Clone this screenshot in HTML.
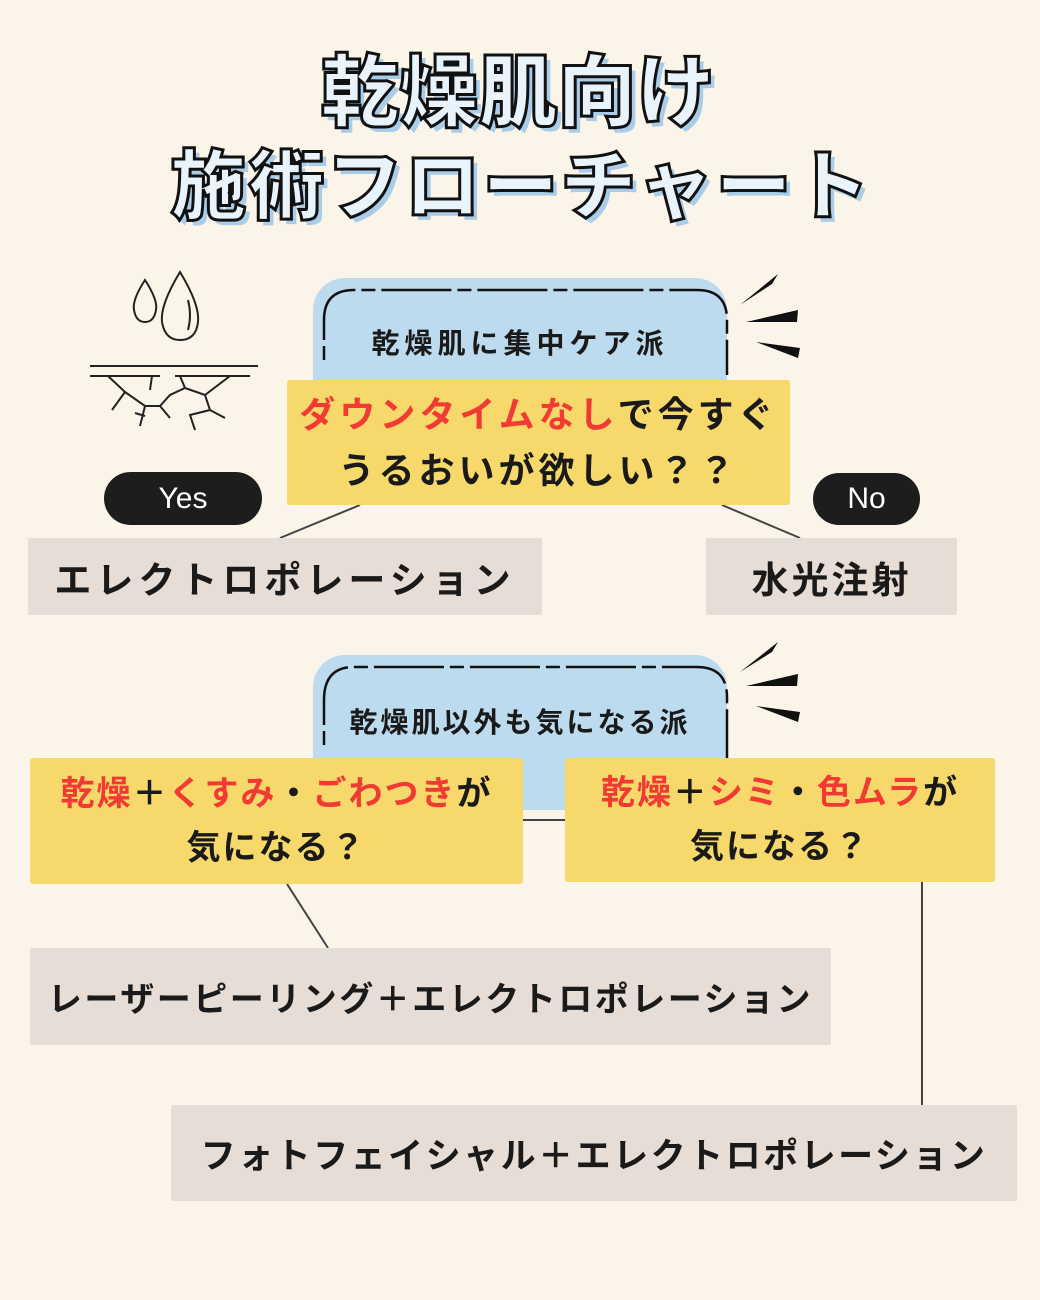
<!DOCTYPE html>
<html><head><meta charset="utf-8"><style>
*{margin:0;padding:0;box-sizing:border-box}
body{width:1040px;height:1300px;background:#fbf4e8;position:relative;overflow:hidden;font-family:"Liberation Sans","Noto Sans CJK JP",sans-serif;font-weight:700;color:#1a1a1a}
.a{position:absolute}
.t{position:absolute;left:0;width:1040px;text-align:center;color:#e9f3fb;-webkit-text-stroke:3px #111;text-shadow:5px 5px 0 #a9cde8;font-weight:900;white-space:nowrap}
.blue{background:#bddbee;border-radius:32px}
.yel{background:#f7d96b;border-radius:3px;display:flex;flex-direction:column;justify-content:center;align-items:center;text-align:center}
.gray{background:#e6ddd6;border-radius:2px;display:flex;align-items:center;justify-content:center}
.pill{background:#1d1d1d;color:#fff;border-radius:27px;display:flex;align-items:center;justify-content:center;font-weight:400;font-size:30px}
.r{color:#f23a35}
</style></head><body>
<div class="t" style="top:48px;font-size:79px;line-height:90px;left:-2px">乾燥肌向け</div>
<div class="t" style="top:140px;font-size:76px;line-height:95px;letter-spacing:2px;padding-left:2px">施術フローチャート</div>

<div class="a blue" style="left:313px;top:278px;width:414px;height:130px"></div>
<div class="a blue" style="left:313px;top:655px;width:414px;height:155px"></div>

<svg class="a" style="left:0;top:0" width="1040" height="1300">
<g fill="none" stroke="#111" stroke-width="2.5">
<path d="M324 360 V320 Q324 290 354 290 H697 Q727 290 727 320 V375" stroke-dasharray="14 6 70 6"/>
<path d="M324 745 V700 Q324 667 354 667 H697 Q727 667 727 697 V760" stroke-dasharray="14 6 70 6"/>
</g>
<g stroke="#444" stroke-width="2">
<line x1="360" y1="505" x2="280" y2="538"/>
<line x1="722" y1="505" x2="800" y2="538"/>
<line x1="523" y1="820" x2="565" y2="820"/>
<line x1="287" y1="884" x2="328" y2="948"/>
<line x1="922" y1="882" x2="922" y2="1105"/>
</g>
<g fill="#111">
<polygon points="740,305 778,274 772,284"/>
<polygon points="746,322 798,310 797,322"/>
<polygon points="756,342 800,348 798,358"/>
<polygon points="740,672 778,642 772,652"/>
<polygon points="746,686 798,674 797,686"/>
<polygon points="756,706 800,712 798,722"/>
</g>
<g fill="none" stroke="#222" stroke-width="2">
<path d="M145 280 Q132 300 134 310 Q136 322 145 322 Q154 322 156 310 Q158 300 145 280Z"/>
<path d="M180 272 Q160 305 162 322 Q165 340 180 340 Q196 340 198 322 Q200 305 180 272Z"/>
<path d="M188 300 Q192 315 188 330"/>
<line x1="90" y1="366" x2="258" y2="366"/>
<line x1="90" y1="376" x2="160" y2="376"/>
<line x1="175" y1="376" x2="250" y2="376"/>
<path d="M108 376 L125 392 L112 410 M125 392 L145 406 L160 406 L170 395 L185 388 L205 395 L230 376 M152 376 L150 390 M160 406 L170 418 M145 406 L140 426 M135 413 L145 416 M205 395 L210 410 L190 415 L195 430 M210 410 L225 418 M185 388 L180 376"/>
</g>
</svg>

<div class="a" style="left:313px;top:322px;width:414px;text-align:center;font-size:28px;letter-spacing:5px">乾燥肌に集中ケア派</div>
<div class="a" style="left:313px;top:701px;width:414px;text-align:center;font-size:28px;letter-spacing:3px">乾燥肌以外も気になる派</div>

<div class="a yel" style="left:287px;top:380px;width:503px;height:125px;font-size:36px;line-height:56px;letter-spacing:4px"><div><span class="r">ダウンタイムなし</span>で今すぐ</div><div>うるおいが欲しい？？</div></div>

<div class="a pill" style="left:104px;top:472px;width:158px;height:53px">Yes</div>
<div class="a pill" style="left:813px;top:473px;width:107px;height:52px">No</div>

<div class="a gray" style="left:28px;top:538px;width:514px;height:77px;font-size:37px;letter-spacing:5px">エレクトロポレーション</div>
<div class="a gray" style="left:706px;top:538px;width:251px;height:77px;font-size:37px;letter-spacing:3px">水光注射</div>

<div class="a yel" style="left:30px;top:758px;width:493px;height:126px;font-size:34px;line-height:54px;letter-spacing:2px"><div><span class="r">乾燥</span>＋<span class="r">くすみ</span>・<span class="r">ごわつき</span>が</div><div>気になる？</div></div>
<div class="a yel" style="left:565px;top:758px;width:430px;height:124px;font-size:34px;line-height:54px;letter-spacing:2px"><div><span class="r">乾燥</span>＋<span class="r">シミ</span>・<span class="r">色ムラ</span>が</div><div>気になる？</div></div>

<div class="a gray" style="left:30px;top:948px;width:801px;height:97px;font-size:34px;letter-spacing:2.5px">レーザーピーリング＋エレクトロポレーション</div>
<div class="a gray" style="left:171px;top:1105px;width:846px;height:96px;font-size:35px;letter-spacing:2.5px">フォトフェイシャル＋エレクトロポレーション</div>
</body></html>
